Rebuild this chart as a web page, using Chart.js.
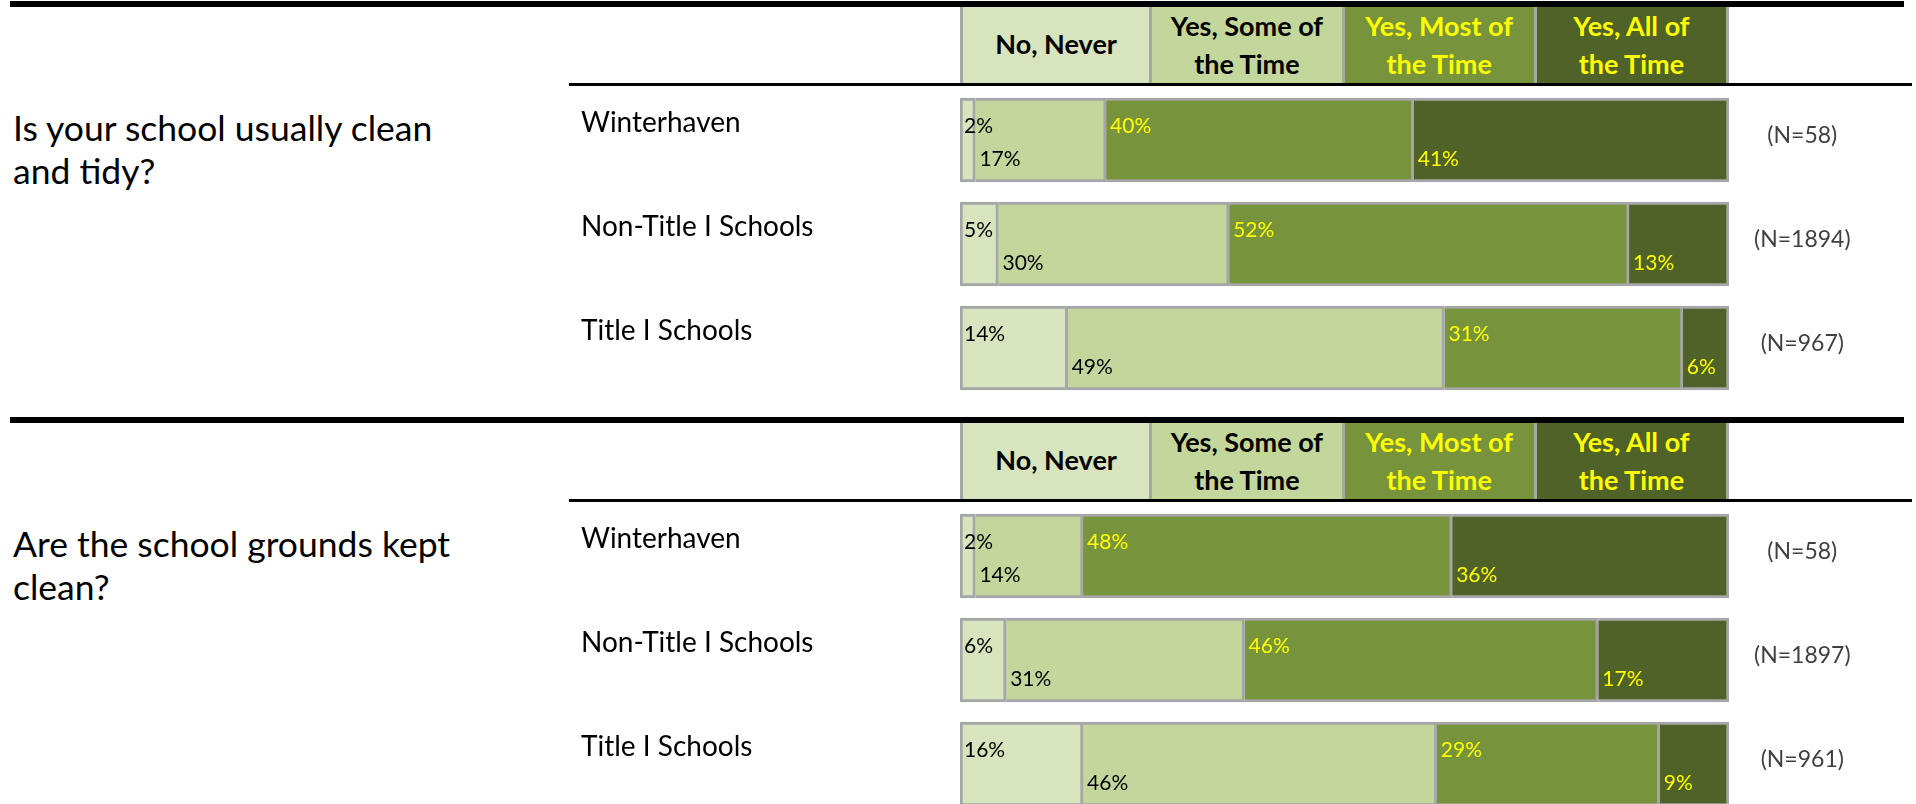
<!DOCTYPE html>
<html>
<head>
<meta charset="utf-8">
<script src="https://cdn.jsdelivr.net/npm/chart.js@4.4.0/dist/chart.umd.min.js"></script>
<style>
  body { margin: 0; background: #fff; font-family: Lato, sans-serif; }
  #page { position: relative; width: 1916px; height: 804px; overflow: hidden; }
  .rule { position: absolute; background: #000; }
  .question { position: absolute; left: 13px; width: 460px; font-size: 35.5px; line-height: 43px; color: #000; }
  .header { position: absolute; left: 960px; width: 769px; height: 76px; display: grid; grid-template-columns: repeat(4, 1fr); }
  .header div { box-sizing: border-box; border-right: 3px solid #A6A6A6; text-align: center; font-weight: bold; font-size: 27px; line-height: 38px; }
  .header div:first-child { border-left: 3px solid #A6A6A6; }
  .panel { position: absolute; left: 581px; width: 1335px; height: 312px; }
</style>
</head>
<body>
<div id="page"></div>
<script>
const groups = ['Winterhaven', 'Non-Title I Schools', 'Title I Schools'];
const responses = ['No, Never', 'Yes, Some of the Time', 'Yes, Most of the Time', 'Yes, All of the Time'];

// Q1: Is your school usually clean and tidy?
const cleanQuestion = 'Is your school usually clean and tidy?';
const cleanNever = [2, 5, 14];
const cleanSome = [17, 30, 49];
const cleanMost = [40, 52, 31];
const cleanAll = [41, 13, 6];
const cleanN = [58, 1894, 967];

// Q2: Are the school grounds kept clean?
const groundsQuestion = 'Are the school grounds kept clean?';
const groundsNever = [2, 6, 16];
const groundsSome = [14, 31, 46];
const groundsMost = [48, 46, 29];
const groundsAll = [36, 17, 9];
const groundsN = [58, 1897, 961];

const fills = ['#D7E4BD', '#C3D69B', '#77933C', '#4F6228'];
const textColors = ['#000000', '#000000', '#FFFF00', '#FFFF00'];

Chart.defaults.font.family = 'Lato';

// percent text inside each segment, alternating high / low
const segmentLabels = {
  id: 'segmentLabels',
  afterDatasetsDraw(chart) {
    const ctx = chart.ctx;
    ctx.save();
    ctx.font = '21px Lato';
    ctx.textAlign = 'left';
    ctx.textBaseline = 'alphabetic';
    chart.data.datasets.forEach((ds, i) => {
      chart.getDatasetMeta(i).data.forEach((bar, j) => {
        const {x, y, base} = bar.getProps(['x', 'y', 'base'], true);
        const left = Math.min(x, base);
        ctx.fillStyle = textColors[i];
        ctx.fillText(ds.data[j] + '%', left + 4, i % 2 === 0 ? y - 7 : y + 26);
      });
    });
    ctx.restore();
  }
};

// side axes: fixed width, and no extra top/bottom room for their labels
function fixAxis(width) {
  return s => {
    s.width = width;
    s.paddingTop = 0;
    s.paddingBottom = 0;
  };
}

const page = document.getElementById('page');

function addRule(left, top, width, height) {
  const d = document.createElement('div');
  d.className = 'rule';
  d.style.cssText = `left:${left}px;top:${top}px;width:${width}px;height:${height}px`;
  page.appendChild(d);
}

function makePanel(top, question, series, nValues) {
  addRule(10, top + 1, 1894, 6);
  addRule(569, top + 83, 1343, 3);

  const q = document.createElement('div');
  q.className = 'question';
  q.style.top = (top + 106) + 'px';
  q.textContent = question;
  page.appendChild(q);

  const head = document.createElement('div');
  head.className = 'header';
  head.style.top = (top + 7) + 'px';
  responses.forEach((r, i) => {
    const cell = document.createElement('div');
    cell.style.background = fills[i];
    cell.style.color = textColors[i];
    const parts = r.split(' the ');
    if (parts.length > 1) {
      cell.innerHTML = parts[0] + '<br>the ' + parts[1];
    } else {
      cell.textContent = r;
      cell.style.paddingTop = '18px';
    }
    head.appendChild(cell);
  });
  page.appendChild(head);

  const wrap = document.createElement('div');
  wrap.className = 'panel';
  wrap.style.top = (top + 88) + 'px';
  const canvas = document.createElement('canvas');
  wrap.appendChild(canvas);
  page.appendChild(wrap);

  new Chart(canvas, {
    type: 'bar',
    data: {
      labels: groups,
      datasets: responses.map((r, i) => ({
        label: r,
        data: series[i],
        backgroundColor: fills[i],
        borderColor: '#A6A6A6',
        borderWidth: i === 0 ? 3 : {top: 3, right: 3, bottom: 3, left: 0},
        borderSkipped: false,
        barThickness: 84
      }))
    },
    options: {
      indexAxis: 'y',
      responsive: true,
      maintainAspectRatio: false,
      animation: false,
      layout: {padding: 0},
      plugins: {
        legend: {display: false},
        tooltip: {enabled: false}
      },
      scales: {
        x: {display: false, stacked: true, min: 0, max: 100},
        y: {
          stacked: true,
          grid: {display: false, drawTicks: false},
          border: {display: false},
          ticks: {crossAlign: 'far', padding: 0, labelOffset: -17, color: '#000', font: {size: 28}},
          afterFit: fixAxis(379)
        },
        yN: {
          type: 'category',
          labels: nValues.map(n => '(N=' + n + ')'),
          position: 'right',
          offset: true,
          grid: {display: false, drawTicks: false},
          border: {display: false},
          ticks: {crossAlign: 'center', padding: 25, labelOffset: -4, color: '#404040', font: {size: 23}},
          afterFit: fixAxis(187)
        }
      }
    },
    plugins: [segmentLabels]
  });
}

makePanel(0, cleanQuestion, [cleanNever, cleanSome, cleanMost, cleanAll], cleanN);
makePanel(416, groundsQuestion, [groundsNever, groundsSome, groundsMost, groundsAll], groundsN);
</script>
</body>
</html>
